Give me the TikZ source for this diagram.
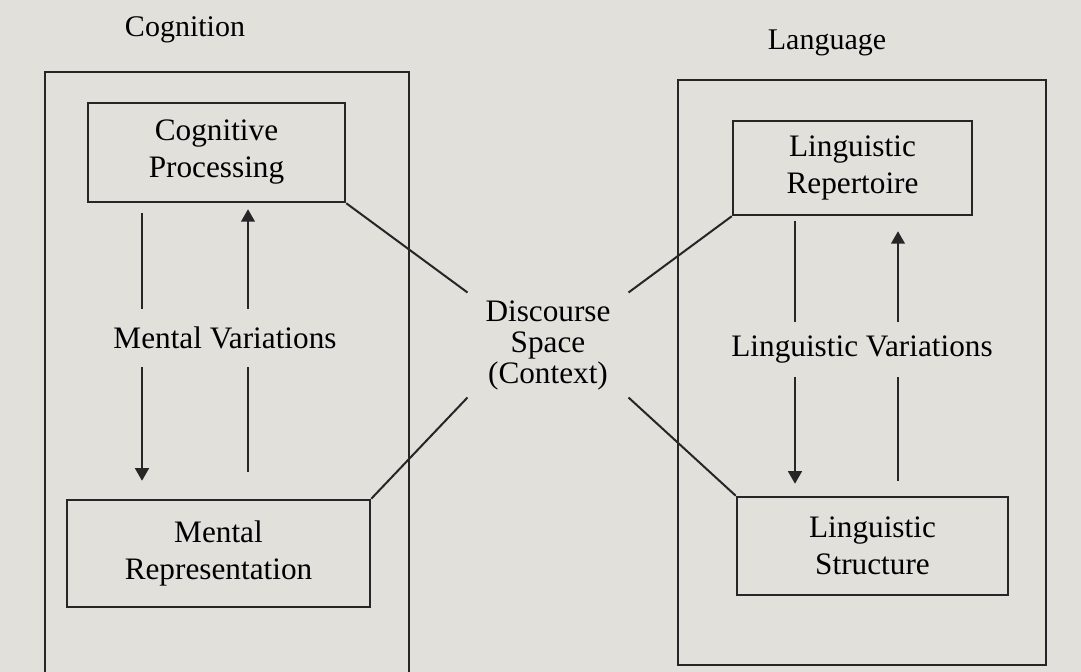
\documentclass[tikz,border=0pt]{standalone}
\usepackage{fontspec}
\setmainfont{Liberation Serif}
\usetikzlibrary{positioning,arrows.meta}
\definecolor{paper}{HTML}{E2E0DB}
\definecolor{ink}{HTML}{262626}
\tikzset{
  stagebox/.style={draw=ink, line width=1pt, align=center, inner sep=0pt,
                   font=\fontsize{12.5}{14.8}\selectfont},
  framebox/.style={draw=ink, line width=0.7pt},
  title/.style={inner sep=0pt, font=\fontsize{12}{14}\selectfont},
  varlabel/.style={align=center, inner sep=0pt,
                   font=\fontsize{12.5}{14.8}\selectfont},
  flowline/.style={draw=ink, line width=0.8pt},
  flowarrow/.style={flowline, -{Triangle[length=5pt,width=5.5pt]}},
  linkline/.style={draw=ink, line width=0.8pt}
}

\begin{document}
\begin{tikzpicture}[x=0.4pt, y=-0.4pt]

  % --- page ---
  \useasboundingbox (0,0) rectangle (1081,672);
  \fill[paper] (0,0) rectangle (1081,672);
  \clip (0,0) rectangle (1081,672);

  % --- Cognition frame ---
  \node[title] (cogtitle) at (185,30) {Cognition};
  \draw[framebox] (45,72) rectangle (409,700);
  \node[stagebox, minimum width=102.8pt, minimum height=39.6pt]
    (cogproc) at (216.5,152.5) {Cognitive\\Processing};
  \node[stagebox, minimum width=121.2pt, minimum height=42.8pt]
    (mentrep) at (218.5,553.5) {Mental\\Representation};
  \node[varlabel, minimum height=22.8pt] (mentvar) at (225,338) {Mental Variations};

  % --- Language frame ---
  \node[title] (langtitle) at (827,43) {Language};
  \draw[framebox] (678,80) rectangle (1046,665);
  \node[stagebox, minimum width=95.6pt, minimum height=37.6pt]
    (lingrep) at (852.5,168) {Linguistic\\Repertoire};
  \node[stagebox, minimum width=108.4pt, minimum height=39.2pt]
    (lingstruct) at (872.5,546) {Linguistic\\Structure};
  \node[varlabel, minimum height=21.6pt] (lingvar) at (862,350) {Linguistic Variations};

  % --- Discourse space in the middle ---
  \node[varlabel, font=\fontsize{12.5}{12.4}\selectfont,
        minimum width=64pt, minimum height=41.6pt]
    (disc) at (548,345) {Discourse\\Space\\(Context)};

  % x positions of the variation arrows
  \coordinate (cdown) at (142,0);
  \coordinate (cup)   at (248,0);
  \coordinate (ldown) at (795,0);
  \coordinate (lup)   at (898,0);

  % --- Mental variations ---
  \draw[flowline, shorten <=4pt] (cogproc.south -| cdown) -- (mentvar.north -| cdown);
  \draw[flowarrow, shorten >=7.2pt] (mentvar.south -| cdown) -- (mentrep.north -| cdown);
  \draw[flowline, shorten <=10.8pt] (mentrep.north -| cup) -- (mentvar.south -| cup);
  \draw[flowarrow, shorten >=2.4pt] (mentvar.north -| cup) -- (cogproc.south -| cup);

  % --- Linguistic variations ---
  \draw[flowline, shorten <=2pt] (lingrep.south -| ldown) -- (lingvar.north -| ldown);
  \draw[flowarrow, shorten >=4.8pt] (lingvar.south -| ldown) -- (lingstruct.north -| ldown);
  \draw[flowline, shorten <=6pt] (lingstruct.north -| lup) -- (lingvar.south -| lup);
  \draw[flowarrow, shorten >=6pt] (lingvar.north -| lup) -- (lingrep.south -| lup);

  % --- links to the discourse space ---
  \draw[linkline] (cogproc.south east) -- (disc.north west);
  \draw[linkline] (lingrep.south west) -- (disc.north east);
  \draw[linkline] (mentrep.north east) -- (disc.south west);
  \draw[linkline] (disc.south east) -- (lingstruct.north west);

\end{tikzpicture}
\end{document}
